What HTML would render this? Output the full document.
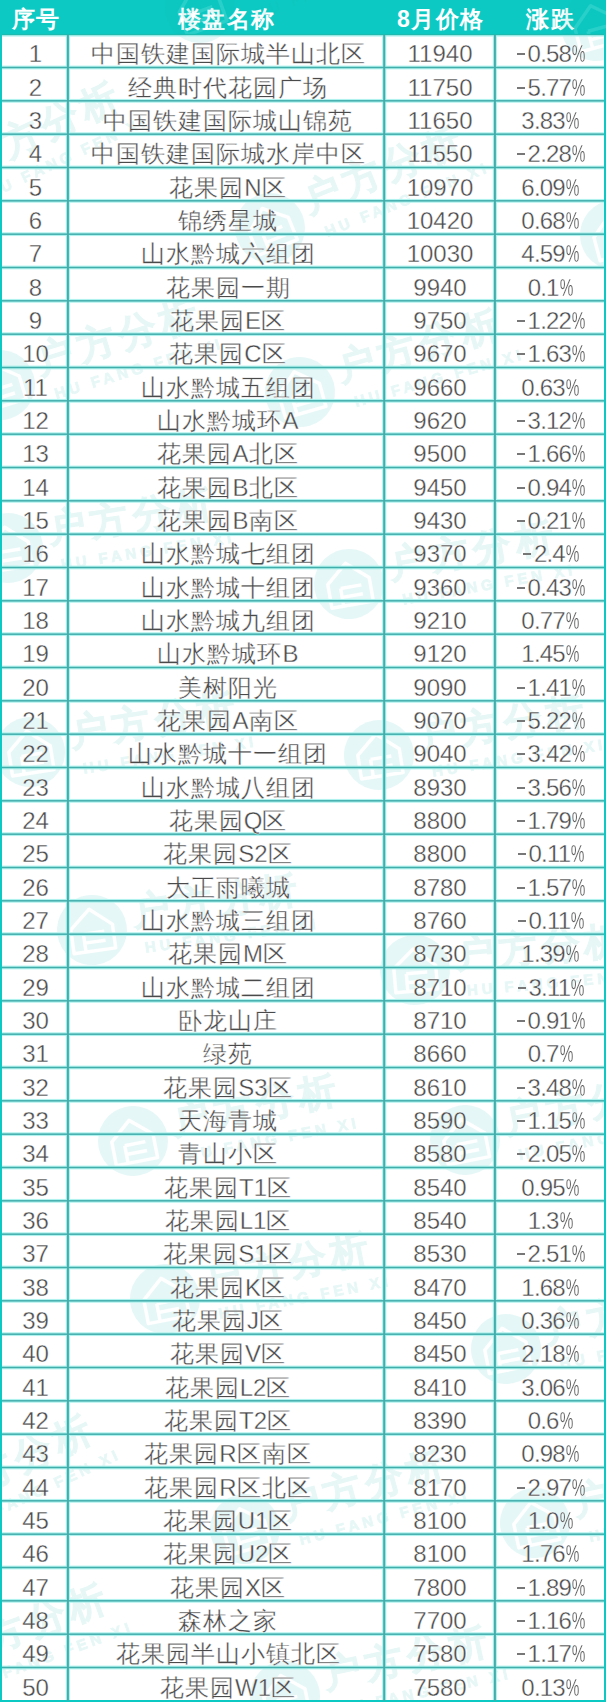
<!DOCTYPE html>
<html><head><meta charset="utf-8"><style>
html,body{margin:0;padding:0;}
body{width:606px;height:1702px;overflow:hidden;background:#fff;position:relative;font-family:"Liberation Sans",sans-serif;}
.hd{position:absolute;left:0;top:0;width:606px;height:35.2px;background:#0ccac3;}
.c{position:absolute;text-align:center;white-space:nowrap;color:#4a4a4a;-webkit-text-stroke:0.35px #fff;font-size:24px;line-height:34px;height:34px;}
.n{letter-spacing:1px;text-indent:4px;}
.h{position:absolute;text-align:center;white-space:nowrap;color:#fff;font-size:23px;font-weight:bold;line-height:34px;height:34px;top:2px;letter-spacing:1.4px;text-indent:1.4px;}
.p{display:inline-block;transform:scaleX(0.64);margin:0 -3.8px 0 -3.0px;}
.q{letter-spacing:-0.8px;}
.m{display:inline-block;width:7.5px;height:2px;background:#777;vertical-align:7px;margin-left:2px;margin-right:3px;}
.l{letter-spacing:0;}
svg{position:absolute;left:0;top:0;}
</style></head><body>
<div class="hd"></div>
<div class="h" style="left:3px;width:65px">序号</div>
<div class="h" style="left:69px;width:314px">楼盘名称</div>
<div class="h" style="left:386px;width:108px">8月价格</div>
<div class="h" style="left:496px;width:108px">涨跌</div>
<svg width="606" height="1702" viewBox="0 0 606 1702"><defs><mask id="hm" maskUnits="userSpaceOnUse" x="-40" y="-40" width="80" height="80"><rect x="-40" y="-40" width="80" height="80" fill="#fff"/><path d="M-21,-3 L0,-21 L21,-3 L21,21 L-21,21 Z M-9,3 H12 M-9,12 H12 M-9,3 V21" fill="none" stroke="#000" stroke-width="3.5" stroke-linejoin="round"/></mask></defs><g transform="translate(596,26) rotate(-15)"><circle r="35" fill="#14b4aa" fill-opacity="0.11" mask="url(#hm)"/><path d="M-21,-3 L0,-21 L21,-3 L21,21 L-21,21 Z M-9,3 H12 M-9,12 H12 M-9,3 V21" fill="none" stroke="#fff" stroke-opacity="0.12" stroke-width="3.5" stroke-linejoin="round"/><g opacity="0.1" fill="#14b4aa" stroke="#14b4aa" stroke-width="0.8" font-family="Liberation Sans, sans-serif" font-weight="bold"><text x="42" y="1" font-size="38" letter-spacing="5">户方分析</text><text x="50" y="30" font-size="15" letter-spacing="4">HU FANG FEN XI</text></g></g><g transform="translate(-68,193) rotate(-25)"><circle r="35" fill="#14b4aa" fill-opacity="0.11" mask="url(#hm)"/><path d="M-21,-3 L0,-21 L21,-3 L21,21 L-21,21 Z M-9,3 H12 M-9,12 H12 M-9,3 V21" fill="none" stroke="#fff" stroke-opacity="0.12" stroke-width="3.5" stroke-linejoin="round"/><g opacity="0.1" fill="#14b4aa" stroke="#14b4aa" stroke-width="0.8" font-family="Liberation Sans, sans-serif" font-weight="bold"><text x="42" y="1" font-size="38" letter-spacing="5">户方分析</text><text x="50" y="30" font-size="15" letter-spacing="4">HU FANG FEN XI</text></g></g><g transform="translate(270,228) rotate(-22)"><circle r="35" fill="#14b4aa" fill-opacity="0.11" mask="url(#hm)"/><path d="M-21,-3 L0,-21 L21,-3 L21,21 L-21,21 Z M-9,3 H12 M-9,12 H12 M-9,3 V21" fill="none" stroke="#fff" stroke-opacity="0.12" stroke-width="3.5" stroke-linejoin="round"/><g opacity="0.1" fill="#14b4aa" stroke="#14b4aa" stroke-width="0.8" font-family="Liberation Sans, sans-serif" font-weight="bold"><text x="42" y="1" font-size="38" letter-spacing="5">户方分析</text><text x="50" y="30" font-size="15" letter-spacing="4">HU FANG FEN XI</text></g></g><g transform="translate(615,235) rotate(-15)"><circle r="35" fill="#14b4aa" fill-opacity="0.11" mask="url(#hm)"/><path d="M-21,-3 L0,-21 L21,-3 L21,21 L-21,21 Z M-9,3 H12 M-9,12 H12 M-9,3 V21" fill="none" stroke="#fff" stroke-opacity="0.12" stroke-width="3.5" stroke-linejoin="round"/><g opacity="0.1" fill="#14b4aa" stroke="#14b4aa" stroke-width="0.8" font-family="Liberation Sans, sans-serif" font-weight="bold"><text x="42" y="1" font-size="38" letter-spacing="5">户方分析</text><text x="50" y="30" font-size="15" letter-spacing="4">HU FANG FEN XI</text></g></g><g transform="translate(0,385) rotate(-17)"><circle r="35" fill="#14b4aa" fill-opacity="0.11" mask="url(#hm)"/><path d="M-21,-3 L0,-21 L21,-3 L21,21 L-21,21 Z M-9,3 H12 M-9,12 H12 M-9,3 V21" fill="none" stroke="#fff" stroke-opacity="0.12" stroke-width="3.5" stroke-linejoin="round"/><g opacity="0.1" fill="#14b4aa" stroke="#14b4aa" stroke-width="0.8" font-family="Liberation Sans, sans-serif" font-weight="bold"><text x="42" y="1" font-size="38" letter-spacing="5">户方分析</text><text x="50" y="30" font-size="15" letter-spacing="4">HU FANG FEN XI</text></g></g><g transform="translate(300,392) rotate(-16)"><circle r="35" fill="#14b4aa" fill-opacity="0.11" mask="url(#hm)"/><path d="M-21,-3 L0,-21 L21,-3 L21,21 L-21,21 Z M-9,3 H12 M-9,12 H12 M-9,3 V21" fill="none" stroke="#fff" stroke-opacity="0.12" stroke-width="3.5" stroke-linejoin="round"/><g opacity="0.1" fill="#14b4aa" stroke="#14b4aa" stroke-width="0.8" font-family="Liberation Sans, sans-serif" font-weight="bold"><text x="42" y="1" font-size="38" letter-spacing="5">户方分析</text><text x="50" y="30" font-size="15" letter-spacing="4">HU FANG FEN XI</text></g></g><g transform="translate(8,548) rotate(-9)"><circle r="35" fill="#14b4aa" fill-opacity="0.11" mask="url(#hm)"/><path d="M-21,-3 L0,-21 L21,-3 L21,21 L-21,21 Z M-9,3 H12 M-9,12 H12 M-9,3 V21" fill="none" stroke="#fff" stroke-opacity="0.12" stroke-width="3.5" stroke-linejoin="round"/><g opacity="0.1" fill="#14b4aa" stroke="#14b4aa" stroke-width="0.8" font-family="Liberation Sans, sans-serif" font-weight="bold"><text x="42" y="1" font-size="38" letter-spacing="5">户方分析</text><text x="50" y="30" font-size="15" letter-spacing="4">HU FANG FEN XI</text></g></g><g transform="translate(349,584) rotate(-10)"><circle r="35" fill="#14b4aa" fill-opacity="0.11" mask="url(#hm)"/><path d="M-21,-3 L0,-21 L21,-3 L21,21 L-21,21 Z M-9,3 H12 M-9,12 H12 M-9,3 V21" fill="none" stroke="#fff" stroke-opacity="0.12" stroke-width="3.5" stroke-linejoin="round"/><g opacity="0.1" fill="#14b4aa" stroke="#14b4aa" stroke-width="0.8" font-family="Liberation Sans, sans-serif" font-weight="bold"><text x="42" y="1" font-size="38" letter-spacing="5">户方分析</text><text x="50" y="30" font-size="15" letter-spacing="4">HU FANG FEN XI</text></g></g><g transform="translate(30,752) rotate(-9)"><circle r="35" fill="#14b4aa" fill-opacity="0.11" mask="url(#hm)"/><path d="M-21,-3 L0,-21 L21,-3 L21,21 L-21,21 Z M-9,3 H12 M-9,12 H12 M-9,3 V21" fill="none" stroke="#fff" stroke-opacity="0.12" stroke-width="3.5" stroke-linejoin="round"/><g opacity="0.1" fill="#14b4aa" stroke="#14b4aa" stroke-width="0.8" font-family="Liberation Sans, sans-serif" font-weight="bold"><text x="42" y="1" font-size="38" letter-spacing="5">户方分析</text><text x="50" y="30" font-size="15" letter-spacing="4">HU FANG FEN XI</text></g></g><g transform="translate(379,755) rotate(-9)"><circle r="35" fill="#14b4aa" fill-opacity="0.11" mask="url(#hm)"/><path d="M-21,-3 L0,-21 L21,-3 L21,21 L-21,21 Z M-9,3 H12 M-9,12 H12 M-9,3 V21" fill="none" stroke="#fff" stroke-opacity="0.12" stroke-width="3.5" stroke-linejoin="round"/><g opacity="0.1" fill="#14b4aa" stroke="#14b4aa" stroke-width="0.8" font-family="Liberation Sans, sans-serif" font-weight="bold"><text x="42" y="1" font-size="38" letter-spacing="5">户方分析</text><text x="50" y="30" font-size="15" letter-spacing="4">HU FANG FEN XI</text></g></g><g transform="translate(92,930) rotate(-8)"><circle r="35" fill="#14b4aa" fill-opacity="0.11" mask="url(#hm)"/><path d="M-21,-3 L0,-21 L21,-3 L21,21 L-21,21 Z M-9,3 H12 M-9,12 H12 M-9,3 V21" fill="none" stroke="#fff" stroke-opacity="0.12" stroke-width="3.5" stroke-linejoin="round"/><g opacity="0.1" fill="#14b4aa" stroke="#14b4aa" stroke-width="0.8" font-family="Liberation Sans, sans-serif" font-weight="bold"><text x="42" y="1" font-size="38" letter-spacing="5">户方分析</text><text x="50" y="30" font-size="15" letter-spacing="4">HU FANG FEN XI</text></g></g><g transform="translate(415,970) rotate(-5)"><circle r="35" fill="#14b4aa" fill-opacity="0.11" mask="url(#hm)"/><path d="M-21,-3 L0,-21 L21,-3 L21,21 L-21,21 Z M-9,3 H12 M-9,12 H12 M-9,3 V21" fill="none" stroke="#fff" stroke-opacity="0.12" stroke-width="3.5" stroke-linejoin="round"/><g opacity="0.1" fill="#14b4aa" stroke="#14b4aa" stroke-width="0.8" font-family="Liberation Sans, sans-serif" font-weight="bold"><text x="42" y="1" font-size="38" letter-spacing="5">户方分析</text><text x="50" y="30" font-size="15" letter-spacing="4">HU FANG FEN XI</text></g></g><g transform="translate(133,1141) rotate(-11)"><circle r="35" fill="#14b4aa" fill-opacity="0.11" mask="url(#hm)"/><path d="M-21,-3 L0,-21 L21,-3 L21,21 L-21,21 Z M-9,3 H12 M-9,12 H12 M-9,3 V21" fill="none" stroke="#fff" stroke-opacity="0.12" stroke-width="3.5" stroke-linejoin="round"/><g opacity="0.1" fill="#14b4aa" stroke="#14b4aa" stroke-width="0.8" font-family="Liberation Sans, sans-serif" font-weight="bold"><text x="42" y="1" font-size="38" letter-spacing="5">户方分析</text><text x="50" y="30" font-size="15" letter-spacing="4">HU FANG FEN XI</text></g></g><g transform="translate(465,1140) rotate(-11)"><circle r="35" fill="#14b4aa" fill-opacity="0.11" mask="url(#hm)"/><path d="M-21,-3 L0,-21 L21,-3 L21,21 L-21,21 Z M-9,3 H12 M-9,12 H12 M-9,3 V21" fill="none" stroke="#fff" stroke-opacity="0.12" stroke-width="3.5" stroke-linejoin="round"/><g opacity="0.1" fill="#14b4aa" stroke="#14b4aa" stroke-width="0.8" font-family="Liberation Sans, sans-serif" font-weight="bold"><text x="42" y="1" font-size="38" letter-spacing="5">户方分析</text><text x="50" y="30" font-size="15" letter-spacing="4">HU FANG FEN XI</text></g></g><g transform="translate(165,1299) rotate(-11)"><circle r="35" fill="#14b4aa" fill-opacity="0.11" mask="url(#hm)"/><path d="M-21,-3 L0,-21 L21,-3 L21,21 L-21,21 Z M-9,3 H12 M-9,12 H12 M-9,3 V21" fill="none" stroke="#fff" stroke-opacity="0.12" stroke-width="3.5" stroke-linejoin="round"/><g opacity="0.1" fill="#14b4aa" stroke="#14b4aa" stroke-width="0.8" font-family="Liberation Sans, sans-serif" font-weight="bold"><text x="42" y="1" font-size="38" letter-spacing="5">户方分析</text><text x="50" y="30" font-size="15" letter-spacing="4">HU FANG FEN XI</text></g></g><g transform="translate(506,1349) rotate(-11)"><circle r="35" fill="#14b4aa" fill-opacity="0.11" mask="url(#hm)"/><path d="M-21,-3 L0,-21 L21,-3 L21,21 L-21,21 Z M-9,3 H12 M-9,12 H12 M-9,3 V21" fill="none" stroke="#fff" stroke-opacity="0.12" stroke-width="3.5" stroke-linejoin="round"/><g opacity="0.1" fill="#14b4aa" stroke="#14b4aa" stroke-width="0.8" font-family="Liberation Sans, sans-serif" font-weight="bold"><text x="42" y="1" font-size="38" letter-spacing="5">户方分析</text><text x="50" y="30" font-size="15" letter-spacing="4">HU FANG FEN XI</text></g></g><g transform="translate(-95,1526) rotate(-25)"><circle r="35" fill="#14b4aa" fill-opacity="0.11" mask="url(#hm)"/><path d="M-21,-3 L0,-21 L21,-3 L21,21 L-21,21 Z M-9,3 H12 M-9,12 H12 M-9,3 V21" fill="none" stroke="#fff" stroke-opacity="0.12" stroke-width="3.5" stroke-linejoin="round"/><g opacity="0.1" fill="#14b4aa" stroke="#14b4aa" stroke-width="0.8" font-family="Liberation Sans, sans-serif" font-weight="bold"><text x="42" y="1" font-size="38" letter-spacing="5">户方分析</text><text x="50" y="30" font-size="15" letter-spacing="4">HU FANG FEN XI</text></g></g><g transform="translate(-88,1680) rotate(-20)"><circle r="35" fill="#14b4aa" fill-opacity="0.11" mask="url(#hm)"/><path d="M-21,-3 L0,-21 L21,-3 L21,21 L-21,21 Z M-9,3 H12 M-9,12 H12 M-9,3 V21" fill="none" stroke="#fff" stroke-opacity="0.12" stroke-width="3.5" stroke-linejoin="round"/><g opacity="0.1" fill="#14b4aa" stroke="#14b4aa" stroke-width="0.8" font-family="Liberation Sans, sans-serif" font-weight="bold"><text x="42" y="1" font-size="38" letter-spacing="5">户方分析</text><text x="50" y="30" font-size="15" letter-spacing="4">HU FANG FEN XI</text></g></g><g transform="translate(245,1529) rotate(-15)"><circle r="35" fill="#14b4aa" fill-opacity="0.11" mask="url(#hm)"/><path d="M-21,-3 L0,-21 L21,-3 L21,21 L-21,21 Z M-9,3 H12 M-9,12 H12 M-9,3 V21" fill="none" stroke="#fff" stroke-opacity="0.12" stroke-width="3.5" stroke-linejoin="round"/><g opacity="0.1" fill="#14b4aa" stroke="#14b4aa" stroke-width="0.8" font-family="Liberation Sans, sans-serif" font-weight="bold"><text x="42" y="1" font-size="38" letter-spacing="5">户方分析</text><text x="50" y="30" font-size="15" letter-spacing="4">HU FANG FEN XI</text></g></g><g transform="translate(535,1523) rotate(-12)"><circle r="35" fill="#14b4aa" fill-opacity="0.11" mask="url(#hm)"/><path d="M-21,-3 L0,-21 L21,-3 L21,21 L-21,21 Z M-9,3 H12 M-9,12 H12 M-9,3 V21" fill="none" stroke="#fff" stroke-opacity="0.12" stroke-width="3.5" stroke-linejoin="round"/><g opacity="0.1" fill="#14b4aa" stroke="#14b4aa" stroke-width="0.8" font-family="Liberation Sans, sans-serif" font-weight="bold"><text x="42" y="1" font-size="38" letter-spacing="5">户方分析</text><text x="50" y="30" font-size="15" letter-spacing="4">HU FANG FEN XI</text></g></g><g transform="translate(285,1696) rotate(-12)"><circle r="35" fill="#14b4aa" fill-opacity="0.11" mask="url(#hm)"/><path d="M-21,-3 L0,-21 L21,-3 L21,21 L-21,21 Z M-9,3 H12 M-9,12 H12 M-9,3 V21" fill="none" stroke="#fff" stroke-opacity="0.12" stroke-width="3.5" stroke-linejoin="round"/><g opacity="0.1" fill="#14b4aa" stroke="#14b4aa" stroke-width="0.8" font-family="Liberation Sans, sans-serif" font-weight="bold"><text x="42" y="1" font-size="38" letter-spacing="5">户方分析</text><text x="50" y="30" font-size="15" letter-spacing="4">HU FANG FEN XI</text></g></g><g transform="translate(200,8) rotate(-20)"><circle r="35" fill="#14b4aa" fill-opacity="0.11" mask="url(#hm)"/><path d="M-21,-3 L0,-21 L21,-3 L21,21 L-21,21 Z M-9,3 H12 M-9,12 H12 M-9,3 V21" fill="none" stroke="#fff" stroke-opacity="0.12" stroke-width="3.5" stroke-linejoin="round"/><g opacity="0.1" fill="#14b4aa" stroke="#14b4aa" stroke-width="0.8" font-family="Liberation Sans, sans-serif" font-weight="bold"><text x="42" y="1" font-size="38" letter-spacing="5">户方分析</text><text x="50" y="30" font-size="15" letter-spacing="4">HU FANG FEN XI</text></g></g></svg>
<svg width="606" height="1702" viewBox="0 0 606 1702"><rect x="0" y="65.60" width="606" height="3.8" fill="#b0f2ee"/><rect x="0" y="98.93" width="606" height="3.8" fill="#b0f2ee"/><rect x="0" y="132.27" width="606" height="3.8" fill="#b0f2ee"/><rect x="0" y="165.60" width="606" height="3.8" fill="#b0f2ee"/><rect x="0" y="198.93" width="606" height="3.8" fill="#b0f2ee"/><rect x="0" y="232.27" width="606" height="3.8" fill="#b0f2ee"/><rect x="0" y="265.60" width="606" height="3.8" fill="#b0f2ee"/><rect x="0" y="298.93" width="606" height="3.8" fill="#b0f2ee"/><rect x="0" y="332.27" width="606" height="3.8" fill="#b0f2ee"/><rect x="0" y="365.60" width="606" height="3.8" fill="#b0f2ee"/><rect x="0" y="398.93" width="606" height="3.8" fill="#b0f2ee"/><rect x="0" y="432.27" width="606" height="3.8" fill="#b0f2ee"/><rect x="0" y="465.60" width="606" height="3.8" fill="#b0f2ee"/><rect x="0" y="498.93" width="606" height="3.8" fill="#b0f2ee"/><rect x="0" y="532.27" width="606" height="3.8" fill="#b0f2ee"/><rect x="0" y="565.60" width="606" height="3.8" fill="#b0f2ee"/><rect x="0" y="598.93" width="606" height="3.8" fill="#b0f2ee"/><rect x="0" y="632.27" width="606" height="3.8" fill="#b0f2ee"/><rect x="0" y="665.60" width="606" height="3.8" fill="#b0f2ee"/><rect x="0" y="698.93" width="606" height="3.8" fill="#b0f2ee"/><rect x="0" y="732.27" width="606" height="3.8" fill="#b0f2ee"/><rect x="0" y="765.60" width="606" height="3.8" fill="#b0f2ee"/><rect x="0" y="798.93" width="606" height="3.8" fill="#b0f2ee"/><rect x="0" y="832.27" width="606" height="3.8" fill="#b0f2ee"/><rect x="0" y="865.60" width="606" height="3.8" fill="#b0f2ee"/><rect x="0" y="898.93" width="606" height="3.8" fill="#b0f2ee"/><rect x="0" y="932.27" width="606" height="3.8" fill="#b0f2ee"/><rect x="0" y="965.60" width="606" height="3.8" fill="#b0f2ee"/><rect x="0" y="998.93" width="606" height="3.8" fill="#b0f2ee"/><rect x="0" y="1032.27" width="606" height="3.8" fill="#b0f2ee"/><rect x="0" y="1065.60" width="606" height="3.8" fill="#b0f2ee"/><rect x="0" y="1098.93" width="606" height="3.8" fill="#b0f2ee"/><rect x="0" y="1132.27" width="606" height="3.8" fill="#b0f2ee"/><rect x="0" y="1165.60" width="606" height="3.8" fill="#b0f2ee"/><rect x="0" y="1198.93" width="606" height="3.8" fill="#b0f2ee"/><rect x="0" y="1232.27" width="606" height="3.8" fill="#b0f2ee"/><rect x="0" y="1265.60" width="606" height="3.8" fill="#b0f2ee"/><rect x="0" y="1298.93" width="606" height="3.8" fill="#b0f2ee"/><rect x="0" y="1332.27" width="606" height="3.8" fill="#b0f2ee"/><rect x="0" y="1365.60" width="606" height="3.8" fill="#b0f2ee"/><rect x="0" y="1398.93" width="606" height="3.8" fill="#b0f2ee"/><rect x="0" y="1432.27" width="606" height="3.8" fill="#b0f2ee"/><rect x="0" y="1465.60" width="606" height="3.8" fill="#b0f2ee"/><rect x="0" y="1498.93" width="606" height="3.8" fill="#b0f2ee"/><rect x="0" y="1532.27" width="606" height="3.8" fill="#b0f2ee"/><rect x="0" y="1565.60" width="606" height="3.8" fill="#b0f2ee"/><rect x="0" y="1598.93" width="606" height="3.8" fill="#b0f2ee"/><rect x="0" y="1632.27" width="606" height="3.8" fill="#b0f2ee"/><rect x="0" y="1665.60" width="606" height="3.8" fill="#b0f2ee"/><rect x="65.80" y="35" width="4.2" height="1666" fill="#b0f2ee"/><rect x="382.10" y="35" width="4.2" height="1666" fill="#b0f2ee"/><rect x="492.80" y="35" width="4.2" height="1666" fill="#b0f2ee"/><rect x="0" y="66.75" width="606" height="1.5" fill="#42aeac"/><rect x="0" y="100.08" width="606" height="1.5" fill="#42aeac"/><rect x="0" y="133.42" width="606" height="1.5" fill="#42aeac"/><rect x="0" y="166.75" width="606" height="1.5" fill="#42aeac"/><rect x="0" y="200.08" width="606" height="1.5" fill="#42aeac"/><rect x="0" y="233.42" width="606" height="1.5" fill="#42aeac"/><rect x="0" y="266.75" width="606" height="1.5" fill="#42aeac"/><rect x="0" y="300.08" width="606" height="1.5" fill="#42aeac"/><rect x="0" y="333.42" width="606" height="1.5" fill="#42aeac"/><rect x="0" y="366.75" width="606" height="1.5" fill="#42aeac"/><rect x="0" y="400.08" width="606" height="1.5" fill="#42aeac"/><rect x="0" y="433.42" width="606" height="1.5" fill="#42aeac"/><rect x="0" y="466.75" width="606" height="1.5" fill="#42aeac"/><rect x="0" y="500.08" width="606" height="1.5" fill="#42aeac"/><rect x="0" y="533.42" width="606" height="1.5" fill="#42aeac"/><rect x="0" y="566.75" width="606" height="1.5" fill="#42aeac"/><rect x="0" y="600.08" width="606" height="1.5" fill="#42aeac"/><rect x="0" y="633.42" width="606" height="1.5" fill="#42aeac"/><rect x="0" y="666.75" width="606" height="1.5" fill="#42aeac"/><rect x="0" y="700.08" width="606" height="1.5" fill="#42aeac"/><rect x="0" y="733.42" width="606" height="1.5" fill="#42aeac"/><rect x="0" y="766.75" width="606" height="1.5" fill="#42aeac"/><rect x="0" y="800.08" width="606" height="1.5" fill="#42aeac"/><rect x="0" y="833.42" width="606" height="1.5" fill="#42aeac"/><rect x="0" y="866.75" width="606" height="1.5" fill="#42aeac"/><rect x="0" y="900.08" width="606" height="1.5" fill="#42aeac"/><rect x="0" y="933.42" width="606" height="1.5" fill="#42aeac"/><rect x="0" y="966.75" width="606" height="1.5" fill="#42aeac"/><rect x="0" y="1000.08" width="606" height="1.5" fill="#42aeac"/><rect x="0" y="1033.42" width="606" height="1.5" fill="#42aeac"/><rect x="0" y="1066.75" width="606" height="1.5" fill="#42aeac"/><rect x="0" y="1100.08" width="606" height="1.5" fill="#42aeac"/><rect x="0" y="1133.42" width="606" height="1.5" fill="#42aeac"/><rect x="0" y="1166.75" width="606" height="1.5" fill="#42aeac"/><rect x="0" y="1200.08" width="606" height="1.5" fill="#42aeac"/><rect x="0" y="1233.42" width="606" height="1.5" fill="#42aeac"/><rect x="0" y="1266.75" width="606" height="1.5" fill="#42aeac"/><rect x="0" y="1300.08" width="606" height="1.5" fill="#42aeac"/><rect x="0" y="1333.42" width="606" height="1.5" fill="#42aeac"/><rect x="0" y="1366.75" width="606" height="1.5" fill="#42aeac"/><rect x="0" y="1400.08" width="606" height="1.5" fill="#42aeac"/><rect x="0" y="1433.42" width="606" height="1.5" fill="#42aeac"/><rect x="0" y="1466.75" width="606" height="1.5" fill="#42aeac"/><rect x="0" y="1500.08" width="606" height="1.5" fill="#42aeac"/><rect x="0" y="1533.42" width="606" height="1.5" fill="#42aeac"/><rect x="0" y="1566.75" width="606" height="1.5" fill="#42aeac"/><rect x="0" y="1600.08" width="606" height="1.5" fill="#42aeac"/><rect x="0" y="1633.42" width="606" height="1.5" fill="#42aeac"/><rect x="0" y="1666.75" width="606" height="1.5" fill="#42aeac"/><rect x="0" y="35.2" width="606" height="1.4" fill="#b0f2ee"/><rect x="0" y="33.9" width="606" height="1.3" fill="#1ebab0"/><rect x="0" y="1700" width="606" height="2" fill="#0ccac3"/><rect x="0" y="34" width="2" height="1668" fill="#0ccac3"/><rect x="604" y="34" width="2" height="1668" fill="#0ccac3"/><rect x="66.90" y="35" width="2" height="1666" fill="#42aeac"/><rect x="383.20" y="35" width="2" height="1666" fill="#42aeac"/><rect x="493.90" y="35" width="2" height="1666" fill="#42aeac"/></svg>
<div class="c" style="left:3px;width:65px;top:37.37px">1</div>
<div class="c n" style="left:69px;width:314px;top:37.37px">中国铁建国际城半山北区</div>
<div class="c" style="left:386px;width:108px;top:37.37px">11940</div>
<div class="c q" style="left:496px;width:108px;top:37.37px"><span class="m"></span>0.58<span class="p">%</span></div>
<div class="c" style="left:3px;width:65px;top:70.70px">2</div>
<div class="c n" style="left:69px;width:314px;top:70.70px">经典时代花园广场</div>
<div class="c" style="left:386px;width:108px;top:70.70px">11750</div>
<div class="c q" style="left:496px;width:108px;top:70.70px"><span class="m"></span>5.77<span class="p">%</span></div>
<div class="c" style="left:3px;width:65px;top:104.03px">3</div>
<div class="c n" style="left:69px;width:314px;top:104.03px">中国铁建国际城山锦苑</div>
<div class="c" style="left:386px;width:108px;top:104.03px">11650</div>
<div class="c q" style="left:496px;width:108px;top:104.03px">3.83<span class="p">%</span></div>
<div class="c" style="left:3px;width:65px;top:137.37px">4</div>
<div class="c n" style="left:69px;width:314px;top:137.37px">中国铁建国际城水岸中区</div>
<div class="c" style="left:386px;width:108px;top:137.37px">11550</div>
<div class="c q" style="left:496px;width:108px;top:137.37px"><span class="m"></span>2.28<span class="p">%</span></div>
<div class="c" style="left:3px;width:65px;top:170.70px">5</div>
<div class="c n" style="left:69px;width:314px;top:170.70px">花果园<span class="l">N</span>区</div>
<div class="c" style="left:386px;width:108px;top:170.70px">10970</div>
<div class="c q" style="left:496px;width:108px;top:170.70px">6.09<span class="p">%</span></div>
<div class="c" style="left:3px;width:65px;top:204.03px">6</div>
<div class="c n" style="left:69px;width:314px;top:204.03px">锦绣星城</div>
<div class="c" style="left:386px;width:108px;top:204.03px">10420</div>
<div class="c q" style="left:496px;width:108px;top:204.03px">0.68<span class="p">%</span></div>
<div class="c" style="left:3px;width:65px;top:237.37px">7</div>
<div class="c n" style="left:69px;width:314px;top:237.37px">山水黔城六组团</div>
<div class="c" style="left:386px;width:108px;top:237.37px">10030</div>
<div class="c q" style="left:496px;width:108px;top:237.37px">4.59<span class="p">%</span></div>
<div class="c" style="left:3px;width:65px;top:270.70px">8</div>
<div class="c n" style="left:69px;width:314px;top:270.70px">花果园一期</div>
<div class="c" style="left:386px;width:108px;top:270.70px">9940</div>
<div class="c q" style="left:496px;width:108px;top:270.70px">0.1<span class="p">%</span></div>
<div class="c" style="left:3px;width:65px;top:304.03px">9</div>
<div class="c n" style="left:69px;width:314px;top:304.03px">花果园<span class="l">E</span>区</div>
<div class="c" style="left:386px;width:108px;top:304.03px">9750</div>
<div class="c q" style="left:496px;width:108px;top:304.03px"><span class="m"></span>1.22<span class="p">%</span></div>
<div class="c" style="left:3px;width:65px;top:337.37px">10</div>
<div class="c n" style="left:69px;width:314px;top:337.37px">花果园<span class="l">C</span>区</div>
<div class="c" style="left:386px;width:108px;top:337.37px">9670</div>
<div class="c q" style="left:496px;width:108px;top:337.37px"><span class="m"></span>1.63<span class="p">%</span></div>
<div class="c" style="left:3px;width:65px;top:370.70px">11</div>
<div class="c n" style="left:69px;width:314px;top:370.70px">山水黔城五组团</div>
<div class="c" style="left:386px;width:108px;top:370.70px">9660</div>
<div class="c q" style="left:496px;width:108px;top:370.70px">0.63<span class="p">%</span></div>
<div class="c" style="left:3px;width:65px;top:404.03px">12</div>
<div class="c n" style="left:69px;width:314px;top:404.03px">山水黔城环<span class="l">A</span></div>
<div class="c" style="left:386px;width:108px;top:404.03px">9620</div>
<div class="c q" style="left:496px;width:108px;top:404.03px"><span class="m"></span>3.12<span class="p">%</span></div>
<div class="c" style="left:3px;width:65px;top:437.37px">13</div>
<div class="c n" style="left:69px;width:314px;top:437.37px">花果园<span class="l">A</span>北区</div>
<div class="c" style="left:386px;width:108px;top:437.37px">9500</div>
<div class="c q" style="left:496px;width:108px;top:437.37px"><span class="m"></span>1.66<span class="p">%</span></div>
<div class="c" style="left:3px;width:65px;top:470.70px">14</div>
<div class="c n" style="left:69px;width:314px;top:470.70px">花果园<span class="l">B</span>北区</div>
<div class="c" style="left:386px;width:108px;top:470.70px">9450</div>
<div class="c q" style="left:496px;width:108px;top:470.70px"><span class="m"></span>0.94<span class="p">%</span></div>
<div class="c" style="left:3px;width:65px;top:504.03px">15</div>
<div class="c n" style="left:69px;width:314px;top:504.03px">花果园<span class="l">B</span>南区</div>
<div class="c" style="left:386px;width:108px;top:504.03px">9430</div>
<div class="c q" style="left:496px;width:108px;top:504.03px"><span class="m"></span>0.21<span class="p">%</span></div>
<div class="c" style="left:3px;width:65px;top:537.37px">16</div>
<div class="c n" style="left:69px;width:314px;top:537.37px">山水黔城七组团</div>
<div class="c" style="left:386px;width:108px;top:537.37px">9370</div>
<div class="c q" style="left:496px;width:108px;top:537.37px"><span class="m"></span>2.4<span class="p">%</span></div>
<div class="c" style="left:3px;width:65px;top:570.70px">17</div>
<div class="c n" style="left:69px;width:314px;top:570.70px">山水黔城十组团</div>
<div class="c" style="left:386px;width:108px;top:570.70px">9360</div>
<div class="c q" style="left:496px;width:108px;top:570.70px"><span class="m"></span>0.43<span class="p">%</span></div>
<div class="c" style="left:3px;width:65px;top:604.03px">18</div>
<div class="c n" style="left:69px;width:314px;top:604.03px">山水黔城九组团</div>
<div class="c" style="left:386px;width:108px;top:604.03px">9210</div>
<div class="c q" style="left:496px;width:108px;top:604.03px">0.77<span class="p">%</span></div>
<div class="c" style="left:3px;width:65px;top:637.37px">19</div>
<div class="c n" style="left:69px;width:314px;top:637.37px">山水黔城环<span class="l">B</span></div>
<div class="c" style="left:386px;width:108px;top:637.37px">9120</div>
<div class="c q" style="left:496px;width:108px;top:637.37px">1.45<span class="p">%</span></div>
<div class="c" style="left:3px;width:65px;top:670.70px">20</div>
<div class="c n" style="left:69px;width:314px;top:670.70px">美树阳光</div>
<div class="c" style="left:386px;width:108px;top:670.70px">9090</div>
<div class="c q" style="left:496px;width:108px;top:670.70px"><span class="m"></span>1.41<span class="p">%</span></div>
<div class="c" style="left:3px;width:65px;top:704.03px">21</div>
<div class="c n" style="left:69px;width:314px;top:704.03px">花果园<span class="l">A</span>南区</div>
<div class="c" style="left:386px;width:108px;top:704.03px">9070</div>
<div class="c q" style="left:496px;width:108px;top:704.03px"><span class="m"></span>5.22<span class="p">%</span></div>
<div class="c" style="left:3px;width:65px;top:737.37px">22</div>
<div class="c n" style="left:69px;width:314px;top:737.37px">山水黔城十一组团</div>
<div class="c" style="left:386px;width:108px;top:737.37px">9040</div>
<div class="c q" style="left:496px;width:108px;top:737.37px"><span class="m"></span>3.42<span class="p">%</span></div>
<div class="c" style="left:3px;width:65px;top:770.70px">23</div>
<div class="c n" style="left:69px;width:314px;top:770.70px">山水黔城八组团</div>
<div class="c" style="left:386px;width:108px;top:770.70px">8930</div>
<div class="c q" style="left:496px;width:108px;top:770.70px"><span class="m"></span>3.56<span class="p">%</span></div>
<div class="c" style="left:3px;width:65px;top:804.03px">24</div>
<div class="c n" style="left:69px;width:314px;top:804.03px">花果园<span class="l">Q</span>区</div>
<div class="c" style="left:386px;width:108px;top:804.03px">8800</div>
<div class="c q" style="left:496px;width:108px;top:804.03px"><span class="m"></span>1.79<span class="p">%</span></div>
<div class="c" style="left:3px;width:65px;top:837.37px">25</div>
<div class="c n" style="left:69px;width:314px;top:837.37px">花果园<span class="l">S2</span>区</div>
<div class="c" style="left:386px;width:108px;top:837.37px">8800</div>
<div class="c q" style="left:496px;width:108px;top:837.37px"><span class="m"></span>0.11<span class="p">%</span></div>
<div class="c" style="left:3px;width:65px;top:870.70px">26</div>
<div class="c n" style="left:69px;width:314px;top:870.70px">大正雨曦城</div>
<div class="c" style="left:386px;width:108px;top:870.70px">8780</div>
<div class="c q" style="left:496px;width:108px;top:870.70px"><span class="m"></span>1.57<span class="p">%</span></div>
<div class="c" style="left:3px;width:65px;top:904.03px">27</div>
<div class="c n" style="left:69px;width:314px;top:904.03px">山水黔城三组团</div>
<div class="c" style="left:386px;width:108px;top:904.03px">8760</div>
<div class="c q" style="left:496px;width:108px;top:904.03px"><span class="m"></span>0.11<span class="p">%</span></div>
<div class="c" style="left:3px;width:65px;top:937.37px">28</div>
<div class="c n" style="left:69px;width:314px;top:937.37px">花果园<span class="l">M</span>区</div>
<div class="c" style="left:386px;width:108px;top:937.37px">8730</div>
<div class="c q" style="left:496px;width:108px;top:937.37px">1.39<span class="p">%</span></div>
<div class="c" style="left:3px;width:65px;top:970.70px">29</div>
<div class="c n" style="left:69px;width:314px;top:970.70px">山水黔城二组团</div>
<div class="c" style="left:386px;width:108px;top:970.70px">8710</div>
<div class="c q" style="left:496px;width:108px;top:970.70px"><span class="m"></span>3.11<span class="p">%</span></div>
<div class="c" style="left:3px;width:65px;top:1004.03px">30</div>
<div class="c n" style="left:69px;width:314px;top:1004.03px">卧龙山庄</div>
<div class="c" style="left:386px;width:108px;top:1004.03px">8710</div>
<div class="c q" style="left:496px;width:108px;top:1004.03px"><span class="m"></span>0.91<span class="p">%</span></div>
<div class="c" style="left:3px;width:65px;top:1037.37px">31</div>
<div class="c n" style="left:69px;width:314px;top:1037.37px">绿苑</div>
<div class="c" style="left:386px;width:108px;top:1037.37px">8660</div>
<div class="c q" style="left:496px;width:108px;top:1037.37px">0.7<span class="p">%</span></div>
<div class="c" style="left:3px;width:65px;top:1070.70px">32</div>
<div class="c n" style="left:69px;width:314px;top:1070.70px">花果园<span class="l">S3</span>区</div>
<div class="c" style="left:386px;width:108px;top:1070.70px">8610</div>
<div class="c q" style="left:496px;width:108px;top:1070.70px"><span class="m"></span>3.48<span class="p">%</span></div>
<div class="c" style="left:3px;width:65px;top:1104.03px">33</div>
<div class="c n" style="left:69px;width:314px;top:1104.03px">天海青城</div>
<div class="c" style="left:386px;width:108px;top:1104.03px">8590</div>
<div class="c q" style="left:496px;width:108px;top:1104.03px"><span class="m"></span>1.15<span class="p">%</span></div>
<div class="c" style="left:3px;width:65px;top:1137.37px">34</div>
<div class="c n" style="left:69px;width:314px;top:1137.37px">青山小区</div>
<div class="c" style="left:386px;width:108px;top:1137.37px">8580</div>
<div class="c q" style="left:496px;width:108px;top:1137.37px"><span class="m"></span>2.05<span class="p">%</span></div>
<div class="c" style="left:3px;width:65px;top:1170.70px">35</div>
<div class="c n" style="left:69px;width:314px;top:1170.70px">花果园<span class="l">T1</span>区</div>
<div class="c" style="left:386px;width:108px;top:1170.70px">8540</div>
<div class="c q" style="left:496px;width:108px;top:1170.70px">0.95<span class="p">%</span></div>
<div class="c" style="left:3px;width:65px;top:1204.03px">36</div>
<div class="c n" style="left:69px;width:314px;top:1204.03px">花果园<span class="l">L1</span>区</div>
<div class="c" style="left:386px;width:108px;top:1204.03px">8540</div>
<div class="c q" style="left:496px;width:108px;top:1204.03px">1.3<span class="p">%</span></div>
<div class="c" style="left:3px;width:65px;top:1237.37px">37</div>
<div class="c n" style="left:69px;width:314px;top:1237.37px">花果园<span class="l">S1</span>区</div>
<div class="c" style="left:386px;width:108px;top:1237.37px">8530</div>
<div class="c q" style="left:496px;width:108px;top:1237.37px"><span class="m"></span>2.51<span class="p">%</span></div>
<div class="c" style="left:3px;width:65px;top:1270.70px">38</div>
<div class="c n" style="left:69px;width:314px;top:1270.70px">花果园<span class="l">K</span>区</div>
<div class="c" style="left:386px;width:108px;top:1270.70px">8470</div>
<div class="c q" style="left:496px;width:108px;top:1270.70px">1.68<span class="p">%</span></div>
<div class="c" style="left:3px;width:65px;top:1304.03px">39</div>
<div class="c n" style="left:69px;width:314px;top:1304.03px">花果园<span class="l">J</span>区</div>
<div class="c" style="left:386px;width:108px;top:1304.03px">8450</div>
<div class="c q" style="left:496px;width:108px;top:1304.03px">0.36<span class="p">%</span></div>
<div class="c" style="left:3px;width:65px;top:1337.37px">40</div>
<div class="c n" style="left:69px;width:314px;top:1337.37px">花果园<span class="l">V</span>区</div>
<div class="c" style="left:386px;width:108px;top:1337.37px">8450</div>
<div class="c q" style="left:496px;width:108px;top:1337.37px">2.18<span class="p">%</span></div>
<div class="c" style="left:3px;width:65px;top:1370.70px">41</div>
<div class="c n" style="left:69px;width:314px;top:1370.70px">花果园<span class="l">L2</span>区</div>
<div class="c" style="left:386px;width:108px;top:1370.70px">8410</div>
<div class="c q" style="left:496px;width:108px;top:1370.70px">3.06<span class="p">%</span></div>
<div class="c" style="left:3px;width:65px;top:1404.03px">42</div>
<div class="c n" style="left:69px;width:314px;top:1404.03px">花果园<span class="l">T2</span>区</div>
<div class="c" style="left:386px;width:108px;top:1404.03px">8390</div>
<div class="c q" style="left:496px;width:108px;top:1404.03px">0.6<span class="p">%</span></div>
<div class="c" style="left:3px;width:65px;top:1437.37px">43</div>
<div class="c n" style="left:69px;width:314px;top:1437.37px">花果园<span class="l">R</span>区南区</div>
<div class="c" style="left:386px;width:108px;top:1437.37px">8230</div>
<div class="c q" style="left:496px;width:108px;top:1437.37px">0.98<span class="p">%</span></div>
<div class="c" style="left:3px;width:65px;top:1470.70px">44</div>
<div class="c n" style="left:69px;width:314px;top:1470.70px">花果园<span class="l">R</span>区北区</div>
<div class="c" style="left:386px;width:108px;top:1470.70px">8170</div>
<div class="c q" style="left:496px;width:108px;top:1470.70px"><span class="m"></span>2.97<span class="p">%</span></div>
<div class="c" style="left:3px;width:65px;top:1504.03px">45</div>
<div class="c n" style="left:69px;width:314px;top:1504.03px">花果园<span class="l">U1</span>区</div>
<div class="c" style="left:386px;width:108px;top:1504.03px">8100</div>
<div class="c q" style="left:496px;width:108px;top:1504.03px">1.0<span class="p">%</span></div>
<div class="c" style="left:3px;width:65px;top:1537.37px">46</div>
<div class="c n" style="left:69px;width:314px;top:1537.37px">花果园<span class="l">U2</span>区</div>
<div class="c" style="left:386px;width:108px;top:1537.37px">8100</div>
<div class="c q" style="left:496px;width:108px;top:1537.37px">1.76<span class="p">%</span></div>
<div class="c" style="left:3px;width:65px;top:1570.70px">47</div>
<div class="c n" style="left:69px;width:314px;top:1570.70px">花果园<span class="l">X</span>区</div>
<div class="c" style="left:386px;width:108px;top:1570.70px">7800</div>
<div class="c q" style="left:496px;width:108px;top:1570.70px"><span class="m"></span>1.89<span class="p">%</span></div>
<div class="c" style="left:3px;width:65px;top:1604.03px">48</div>
<div class="c n" style="left:69px;width:314px;top:1604.03px">森林之家</div>
<div class="c" style="left:386px;width:108px;top:1604.03px">7700</div>
<div class="c q" style="left:496px;width:108px;top:1604.03px"><span class="m"></span>1.16<span class="p">%</span></div>
<div class="c" style="left:3px;width:65px;top:1637.37px">49</div>
<div class="c n" style="left:69px;width:314px;top:1637.37px">花果园半山小镇北区</div>
<div class="c" style="left:386px;width:108px;top:1637.37px">7580</div>
<div class="c q" style="left:496px;width:108px;top:1637.37px"><span class="m"></span>1.17<span class="p">%</span></div>
<div class="c" style="left:3px;width:65px;top:1670.70px">50</div>
<div class="c n" style="left:69px;width:314px;top:1670.70px">花果园<span class="l">W1</span>区</div>
<div class="c" style="left:386px;width:108px;top:1670.70px">7580</div>
<div class="c q" style="left:496px;width:108px;top:1670.70px">0.13<span class="p">%</span></div>
</body></html>
